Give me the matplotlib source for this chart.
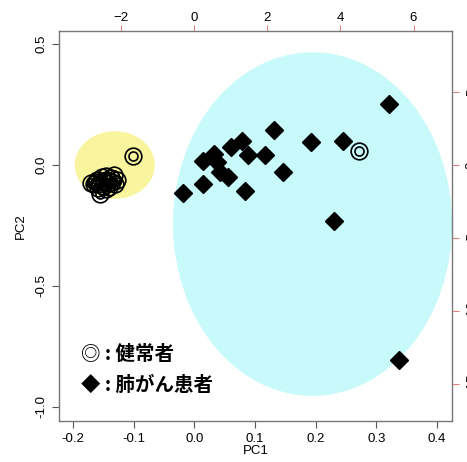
import matplotlib
matplotlib.use("Agg")
import matplotlib.pyplot as plt
from matplotlib.patches import Ellipse

plt.rcParams['font.family'] = ['Liberation Sans', 'DejaVu Sans']

# healthy subjects (double circle)
healthy_x = [-0.101, 0.271, -0.155, -0.165, -0.160, -0.152, -0.145, -0.138, -0.132, -0.128,
             -0.158, -0.150, -0.142, -0.135, -0.170, -0.148, -0.140, -0.130, -0.162, -0.145]
healthy_y = [0.037, 0.058, -0.120, -0.080, -0.060, -0.050, -0.045, -0.055, -0.040, -0.060,
             -0.095, -0.085, -0.075, -0.070, -0.075, -0.065, -0.090, -0.080, -0.070, -0.100]

# lung cancer patients (diamond)
cancer_x = [0.321, 0.131, 0.193, 0.246, 0.079, 0.060, 0.032, 0.088, 0.117, 0.015,
            0.038, 0.147, -0.018, 0.015, 0.043, 0.056, 0.084, 0.231, 0.337]
cancer_y = [0.252, 0.145, 0.095, 0.100, 0.099, 0.074, 0.045, 0.040, 0.042, 0.017,
            0.012, -0.030, -0.117, -0.078, -0.030, -0.050, -0.107, -0.230, -0.805]

# group ellipses: center x, center y, width, height, colour
ell_cx = [-0.131, 0.195]
ell_cy = [0.0, -0.244]
ell_w = [0.132, 0.46]
ell_h = [0.28, 1.42]
ell_col = ['#f9f59f', '#c8fafc']

xticks = [-0.2, -0.1, 0.0, 0.1, 0.2, 0.3, 0.4]
yticks = [0.5, 0.0, -0.5, -1.0]
top_ticks = [-2, 0, 2, 4, 6]
right_ticks = [5, 0, -5, -10, -15]
scale = 16.6

fig = plt.figure(figsize=(4.67, 4.62), dpi=100)
ax = fig.add_axes([0.1263, 0.0887, 0.8417, 0.8442])

for cx, cy, w, h, c in zip(ell_cx, ell_cy, ell_w, ell_h, ell_col):
    ax.add_patch(Ellipse((cx, cy), w, h, facecolor=c, edgecolor='none', zorder=1))

ax.plot(cancer_x, cancer_y, 'D', color='black', ms=9.5, zorder=3)
ax.plot(healthy_x, healthy_y, 'o', mfc='none', mec='black', ms=12, mew=1.2, zorder=4)
ax.plot(healthy_x, healthy_y, 'o', mfc='none', mec='black', ms=6.5, mew=1.2, zorder=4)

ax.set_xlim(-0.223, 0.425)
ax.set_ylim(-1.058, 0.554)
ax.set_xticks(xticks)
ax.set_xticklabels([f"{v:.1f}" for v in xticks])
ax.set_yticks(yticks)
ax.set_yticklabels([f"{v:.1f}" for v in yticks], rotation=90, va='center')
ax.tick_params(labelsize=9.5, length=5, color='#555555')
for s in ax.spines.values():
    s.set_color('#777777')
    s.set_linewidth(1.0)

ax.set_xlabel("PC1", fontsize=9.5, labelpad=0)
ax.set_ylabel("PC2", fontsize=9.5, labelpad=6)

top = ax.secondary_xaxis('top', functions=(lambda v: v * scale, lambda v: v / scale))
top.set_xticks(top_ticks)
top.tick_params(labelsize=9.5, length=4, pad=1, color='#e08080')
top.spines['top'].set_visible(False)

right = ax.secondary_yaxis('right', functions=(lambda v: v * scale, lambda v: v / scale))
right.set_yticks(right_ticks)
right.set_yticklabels([str(v) for v in right_ticks], rotation=90, va='center')
right.tick_params(labelsize=9.5, length=5, pad=5, color='#e08080')
right.spines['right'].set_visible(False)

jp = ['Noto Sans CJK JP', 'DejaVu Sans']
ax.text(-0.187, -0.781, "◎ : 健常者", family=jp, fontsize=14, fontweight='bold', va='center', zorder=5)
ax.text(-0.187, -0.909, "◆ : 肺がん患者", family=jp, fontsize=14, fontweight='bold', va='center', zorder=5)

fig.savefig("out.png", dpi=100)
